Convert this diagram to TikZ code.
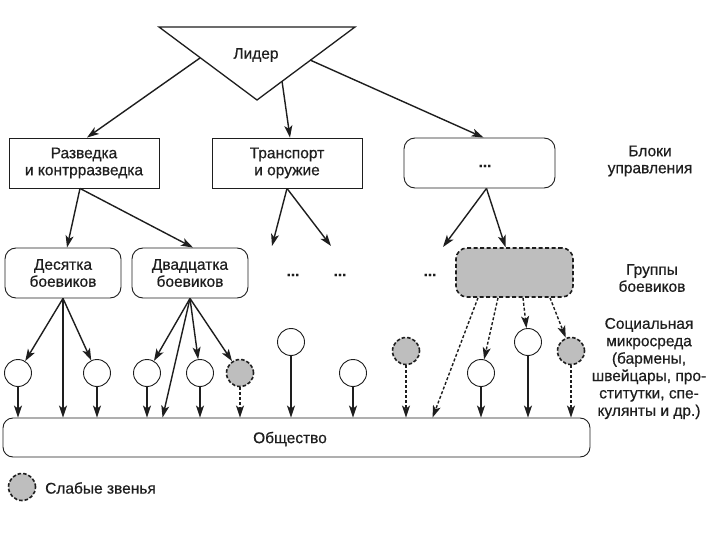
\documentclass[tikz,border=0pt]{standalone}
\usepackage{fontspec}
\setmainfont{Liberation Sans}[FakeBold=0.5]
\usetikzlibrary{arrows.meta,calc}
\definecolor{grayfill}{RGB}{190,190,190}
\definecolor{ink}{RGB}{30,30,30}
\begin{document}
\begin{tikzpicture}[x=1bp,y=-1bp,
  font=\fontsize{15.5bp}{17bp}\selectfont,
  arr/.style={-{Stealth[length=12bp,width=8bp,inset=3bp]}, line width=1.4bp, draw=ink},
  darr/.style={arr, dash pattern=on 3bp off 2bp},
  sqbox/.style={draw=ink, line width=0.9bp, minimum width=150bp, minimum height=50bp, align=center, inner sep=0pt, text=ink},
  rbox/.style={sqbox, rounded corners=11bp},
  wc/.style={circle, draw=ink, line width=0.9bp, minimum size=27bp, inner sep=0pt, fill=white},
  gc/.style={circle, draw=ink, line width=1.6bp, dash pattern=on 3.5bp off 2bp, minimum size=27bp, inner sep=0pt, fill=grayfill},
  lbl/.style={align=center, inner sep=0pt, text=ink},
  dots/.style={inner sep=0pt, text=ink, font=\fontsize{15.5bp}{17bp}\selectfont\bfseries}]
\useasboundingbox (0,0) rectangle (720,540);
\fill[white] (0,0) rectangle (720,540);

% leader triangle
\draw[draw=ink, line width=1.3bp, line join=miter] (159,27) -- (355,27) -- (257,100) -- cycle;
\node[lbl] (lider) at (256,55) {Лидер};
\coordinate (l1) at (200,58);
\coordinate (l2) at (282,81);
\coordinate (l3) at (310,60);

% control blocks
\node[sqbox] (razv) at (84,163) {Разведка\\и контрразведка};
\node[sqbox] (trans) at (287,163) {Транспорт\\и оружие};
\node[rbox, minimum width=151bp] (blk) at (479.5,163) {};
\node[dots] (blkdots) at (485,166) {...};
\node[lbl] (bloki) at (650,161) {Блоки\\управления};

\draw[arr] (l1) -- ([xshift=3bp]razv.north);
\draw[arr] (l2) -- ([xshift=3bp]trans.north);
\draw[arr] (l3) -- ([xshift=4bp]blk.north);

% groups
\node[rbox, minimum width=116bp] (des) at (63,273) {Десятка\\боевиков};
\node[rbox, minimum width=116bp] (dvad) at (190,273) {Двадцатка\\боевиков};
\node[dots] (d1) at (293,275) {...};
\node[dots] (d2) at (340,275) {...};
\node[dots] (d3) at (430,275) {...};
\node[draw=ink, line width=1.6bp, dash pattern=on 4bp off 2.5bp, fill=grayfill,
      rounded corners=11bp, minimum width=117bp, minimum height=49bp] (gray) at (514.5,272.5) {};
\node[lbl] (gruppy) at (652,278) {Группы\\боевиков};

\coordinate (t1) at (272,246);
\coordinate (t2) at (331,246);
\coordinate (b1) at (443,247);

\draw[arr] ([xshift=-4bp]razv.south) -- ([xshift=4bp]des.north);
\draw[arr] ([xshift=-4bp]razv.south) -- ([xshift=3bp]dvad.north);
\draw[arr] (trans.south) -- (t1);
\draw[arr] (trans.south) -- (t2);
\draw[arr] ([xshift=7bp]blk.south) -- (b1);
\draw[arr] ([xshift=7bp]blk.south) -- ([xshift=-9bp]gray.north);

% society
\node[rbox, minimum width=587bp, minimum height=39bp, rounded corners=10bp] (soc) at (296.5,437.5) {};
\node[lbl] (socT) at (290,439) {Общество};
\node[lbl, font=\fontsize{15.5bp}{17.4bp}\selectfont] (micro) at (649,368.5)
  {Социальная\\микросреда\\(бармены,\\швейцары, про-\\ститутки, спе-\\кулянты и др.)};

% circles
\node[wc] (c1) at (18,373) {};
\node[wc] (c2) at (97,373) {};
\node[wc] (c3) at (147,373) {};
\node[wc] (c4) at (200,373) {};
\node[gc] (c5) at (240,373) {};
\node[wc] (c6) at (291,342) {};
\node[wc] (c7) at (353,373) {};
\node[gc] (c8) at (406,351) {};
\node[wc] (c9) at (481,373) {};
\node[wc] (c10) at (528,342) {};
\node[gc] (c11) at (571,351) {};

% from groups to circles
\draw[arr] (des.south) -- (c1);
\draw[arr] (des.south) -- (c2);
\draw[arr] (des.south) -- (des.south |- soc.north);
\draw[arr] (dvad.south) -- (c3);
\draw[arr] (dvad.south) -- ([xshift=160bp]soc.north west);
\draw[arr] (dvad.south) -- (c4);
\draw[arr] (dvad.south) -- (c5);
\draw[darr] ([xshift=-36.5bp]gray.south) -- ([xshift=430bp]soc.north west);
\draw[darr] ([xshift=-16.5bp]gray.south) -- (c9);
\draw[darr] ([xshift=8.5bp]gray.south) -- (c10);
\draw[darr] ([xshift=35.5bp]gray.south) -- (c11);

% circles to society
\foreach \c in {c1,c2,c3,c4,c6,c7,c9,c10}
  \draw[arr] (\c.south) -- (\c.south |- soc.north);
\foreach \c in {c5,c8,c11}
  \draw[darr] (\c.south) -- (\c.south |- soc.north);

% legend
\node[gc] (leg) at (22,487) {};
\node[lbl, anchor=west] (legT) at (45,488) {Слабые звенья};
\end{tikzpicture}
\end{document}
